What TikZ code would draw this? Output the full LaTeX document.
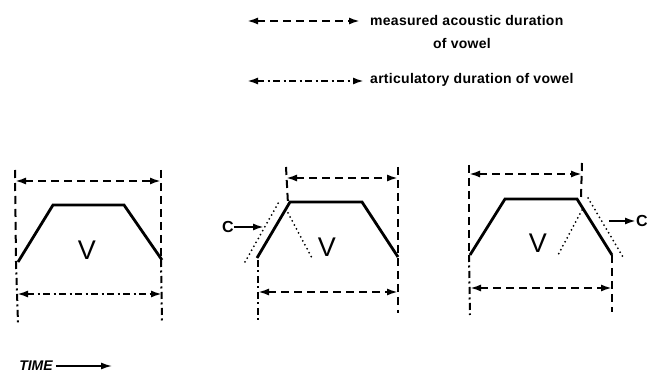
\documentclass[tikz,border=0pt]{standalone}
\usepackage{fontspec}
\setmainfont{Liberation Sans}
\newfontfamily\lettere[LetterSpace=2]{Liberation Sans}
\usetikzlibrary{arrows.meta}

\tikzset{
  acustica/.style={line width=2pt, dash pattern=on 8pt off 5pt},
  articolatoria/.style={line width=2pt, dash pattern=on 7pt off 3.5pt on 2pt off 3.5pt},
  puntini/.style={line width=2pt, line cap=round, dash pattern=on 0pt off 4.5pt},
  profilo/.style={line width=2.8pt},
  durata/.style={{Latex[length=11pt,width=7pt]}-{Latex[length=11pt,width=7pt]}},
  spinta/.style={line width=2pt, -{Latex[length=11pt,width=7pt]}},
  testo/.style={font=\lettere\bfseries\fontsize{14}{16}\selectfont, inner sep=0pt},
  vocale/.style={font=\fontsize{27}{29}\selectfont, inner sep=0pt},
  cons/.style={font=\bfseries\fontsize{16}{18}\selectfont, inner sep=0pt},
}

\begin{document}
\begin{tikzpicture}[x=1pt, y=-1pt]
  \useasboundingbox (0,0) rectangle (654,379);
  % legenda
  \node[testo, anchor=west] (mis) at (370,20) {measured acoustic duration};
  \node[testo] (mis2) at (462,44) {of vowel};
  \node[testo, anchor=west] (art) at (370,80) {articulatory duration of vowel};
  \coordinate (l1) at (247,21); \coordinate (l2) at (247,81);
  \draw[acustica, durata] (l1) -- ([xshift=-10pt]mis.west |- l1);
  \draw[articolatoria, durata] (l2) -- ([xshift=-6pt]art.west |- l2);

  % primo profilo: nessuna coarticolazione
  \coordinate (p1a) at (18,262); \coordinate (p1b) at (53,205);
  \coordinate (p1c) at (124,205); \coordinate (p1d) at (162,260);
  \draw[profilo] (p1a) -- (p1b) -- (p1c) -- (p1d);
  \node[vocale] (v1) at (87,250) {V};
  \draw[acustica] (15,170) -- (16,262);      % bordo sinistro
  \draw[articolatoria] (16,262) -- (18,323);
  \draw[acustica] (161,170) -- (161,260);    % bordo destro
  \draw[articolatoria] (161,260) -- (162,322);
  \coordinate (s1a) at (15,181); \coordinate (s1b) at (161,181);
  \coordinate (i1a) at (17,294); \coordinate (i1b) at (162,294);
  \draw[acustica, durata] (s1a) -- (s1b);
  \draw[articolatoria, durata] (i1a) -- (i1b);

  % secondo profilo: C prima della vocale
  \coordinate (p2a) at (257,258); \coordinate (p2b) at (290,202);
  \coordinate (p2c) at (362,202); \coordinate (p2d) at (398,257);
  \draw[profilo] (p2a) -- (p2b) -- (p2c) -- (p2d);
  \node[vocale] (v2) at (327,247) {V};
  \draw[puntini] (245,262) -- (280,200);     % transizione della C
  \draw[puntini] (288,213) -- (313,260);
  \draw[acustica] (286,167) -- (288,204);
  \draw[articolatoria] (258,260) -- (258,320);
  \draw[acustica] (398,167) -- (398,313);
  \coordinate (s2a) at (286,178); \coordinate (s2b) at (398,178);
  \coordinate (i2a) at (258,292); \coordinate (i2b) at (398,292);
  \draw[acustica, durata] (s2a) -- (s2b);
  \draw[acustica, durata] (i2a) -- (i2b);
  \node[cons] (c2) at (228,227) {C};
  \coordinate (f2) at (264,227);
  \draw[spinta] (c2.east) -- (f2);

  % terzo profilo: C dopo la vocale
  \coordinate (p3a) at (470,255); \coordinate (p3b) at (505,199);
  \coordinate (p3c) at (577,199); \coordinate (p3d) at (612,255);
  \draw[profilo] (p3a) -- (p3b) -- (p3c) -- (p3d);
  \node[vocale] (v3) at (538,243) {V};
  \draw[puntini] (582,210) -- (557,257);
  \draw[puntini] (588,198) -- (623,257);
  \draw[acustica] (469,165) -- (469,255);
  \draw[articolatoria] (469,255) -- (470,315);
  \draw[acustica] (582,163) -- (581,198);
  \draw[acustica] (612,255) -- (612,312);
  \coordinate (s3a) at (469,174); \coordinate (s3b) at (582,174);
  \coordinate (i3a) at (470,288); \coordinate (i3b) at (612,288);
  \draw[acustica, durata] (s3a) -- (s3b);
  \draw[acustica, durata] (i3a) -- (i3b);
  \node[cons] (c3) at (642,221) {C};
  \coordinate (f3) at (609,221);
  \draw[spinta] (f3) -- (c3.west);

  % asse del tempo
  \node[font=\bfseries\itshape\fontsize{14}{16}\selectfont, inner sep=0pt] (tempo) at (36,366) {TIME};
  \coordinate (t1) at (112,366);
  \draw[line width=1.5pt, -{Latex[length=11pt,width=7pt]}] ([xshift=3pt]tempo.east) -- (t1);
\end{tikzpicture}
\end{document}
